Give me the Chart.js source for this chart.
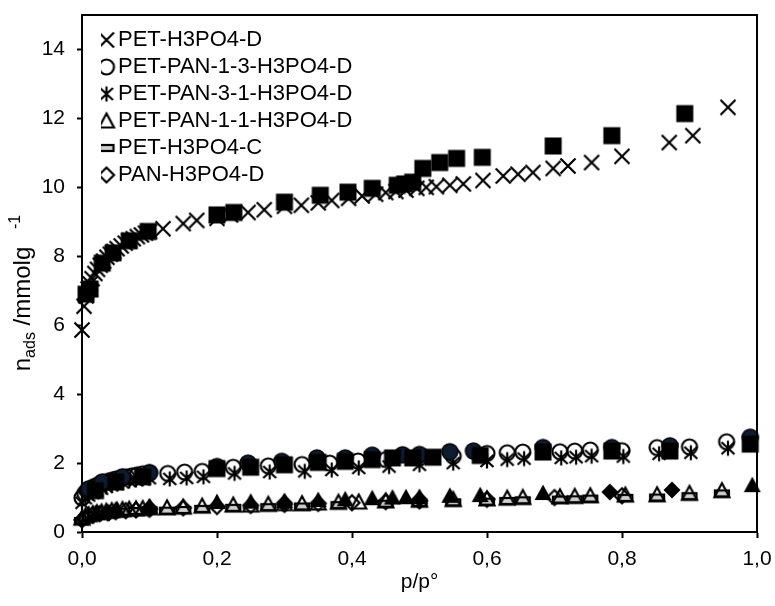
<!DOCTYPE html>
<html>
<head>
<meta charset="utf-8">
<title>Isotherms</title>
<script src="https://cdn.jsdelivr.net/npm/chart.js@4.4.1/dist/chart.umd.min.js"></script>
<style>
  html, body { margin: 0; padding: 0; background: #fff; }
  #wrap { width: 775px; height: 606px; }
</style>
</head>
<body>
<div id="wrap"><canvas id="isoChart" width="775" height="606"></canvas></div>
<script>
// series names (legend)
const seriesNames = ['PET-H3PO4-D', 'PET-PAN-1-3-H3PO4-D', 'PET-PAN-3-1-H3PO4-D',
                     'PET-PAN-1-1-H3PO4-D', 'PET-H3PO4-C', 'PAN-H3PO4-D'];
const xTicks = [0, 0.2, 0.4, 0.6, 0.8, 1.0];
const yTicks = [0, 2, 4, 6, 8, 10, 12, 14];

// PET-H3PO4-D adsorption (x) and desorption (filled square)
const petD_adsP = [0.000, 0.003, 0.006, 0.009, 0.012, 0.015, 0.019, 0.023, 0.027, 0.032, 0.037, 0.042, 0.047, 0.052, 0.058, 0.064, 0.070, 0.076, 0.082, 0.088, 0.094, 0.100,
                   0.120, 0.150, 0.170, 0.200, 0.220, 0.246, 0.270, 0.300, 0.325, 0.350, 0.370, 0.395, 0.415, 0.435, 0.450, 0.465, 0.480, 0.496, 0.510, 0.525, 0.545, 0.565,
                   0.594, 0.624, 0.646, 0.668, 0.698, 0.720, 0.755, 0.800, 0.870, 0.905, 0.957];
const petD_adsN = [5.86, 6.55, 6.85, 7.05, 7.20, 7.35, 7.50, 7.62, 7.74, 7.86, 7.97, 8.06, 8.14, 8.22, 8.30, 8.38, 8.45, 8.51, 8.57, 8.62, 8.67, 8.72,
                   8.80, 8.95, 9.04, 9.10, 9.20, 9.27, 9.35, 9.45, 9.48, 9.55, 9.62, 9.68, 9.75, 9.80, 9.85, 9.88, 9.92, 9.97, 10.00, 10.02, 10.06, 10.10,
                   10.20, 10.33, 10.38, 10.43, 10.55, 10.62, 10.72, 10.90, 11.30, 11.50, 12.32];
const petD_desP = [0.893, 0.785, 0.698, 0.593, 0.555, 0.530, 0.505, 0.490, 0.478, 0.467, 0.430, 0.394, 0.353, 0.300, 0.225, 0.200, 0.098, 0.070, 0.046, 0.030, 0.012, 0.006];
const petD_desN = [12.14, 11.50, 11.20, 10.87, 10.84, 10.72, 10.55, 10.15, 10.10, 10.06, 9.97, 9.86, 9.77, 9.57, 9.27, 9.20, 8.72, 8.45, 8.10, 7.80, 7.05, 6.90];

// PET-PAN-1-3-H3PO4-D adsorption (open circle) and desorption (filled circle)
const pp13_adsP = [0.000, 0.004, 0.008, 0.013, 0.018, 0.024, 0.030, 0.036, 0.043, 0.050, 0.058, 0.066, 0.074, 0.082, 0.090, 0.100,
                   0.127, 0.152, 0.178, 0.224, 0.276, 0.326, 0.367, 0.409, 0.450, 0.500, 0.550, 0.600, 0.630, 0.653, 0.708, 0.730, 0.753, 0.800, 0.852, 0.900, 0.955];
const pp13_adsN = [0.99, 1.12, 1.20, 1.26, 1.32, 1.37, 1.42, 1.46, 1.50, 1.54, 1.57, 1.60, 1.63, 1.66, 1.69, 1.72,
                   1.70, 1.74, 1.76, 1.88, 1.92, 1.96, 2.00, 2.06, 2.10, 2.15, 2.20, 2.28, 2.30, 2.32, 2.33, 2.35, 2.38, 2.36, 2.45, 2.47, 2.62];
const pp13_desP = [0.990, 0.871, 0.785, 0.683, 0.580, 0.545, 0.500, 0.475, 0.430, 0.390, 0.348, 0.296, 0.246, 0.200, 0.100, 0.060, 0.030, 0.010];
const pp13_desN = [2.75, 2.50, 2.45, 2.45, 2.35, 2.33, 2.25, 2.24, 2.23, 2.15, 2.15, 2.05, 2.00, 1.90, 1.72, 1.60, 1.45, 1.25];

// PET-PAN-3-1-H3PO4-D adsorption (asterisk) and desorption (filled square)
const pp31_adsP = [0.000, 0.005, 0.010, 0.016, 0.022, 0.029, 0.036, 0.044, 0.052, 0.060, 0.070, 0.080, 0.090, 0.100, 0.130, 0.155, 0.180, 0.226,
                   0.278, 0.330, 0.370, 0.410, 0.455, 0.500, 0.550, 0.600, 0.630, 0.655, 0.710, 0.732, 0.755, 0.802, 0.855, 0.902, 0.957];
const pp31_adsN = [0.85, 0.98, 1.06, 1.13, 1.20, 1.26, 1.31, 1.36, 1.40, 1.44, 1.48, 1.51, 1.54, 1.56, 1.54, 1.57, 1.60, 1.70,
                   1.74, 1.76, 1.80, 1.86, 1.90, 1.95, 2.00, 2.06, 2.10, 2.13, 2.15, 2.17, 2.20, 2.19, 2.27, 2.30, 2.43];
const pp31_desP = [0.990, 0.871, 0.785, 0.683, 0.590, 0.520, 0.490, 0.460, 0.430, 0.390, 0.350, 0.300, 0.250, 0.200, 0.090, 0.050, 0.020];
const pp31_desN = [2.55, 2.35, 2.35, 2.32, 2.22, 2.17, 2.15, 2.15, 2.10, 2.05, 2.02, 1.95, 1.88, 1.84, 1.60, 1.45, 1.20];

// PET-PAN-1-1-H3PO4-D adsorption (open triangle) and desorption (filled triangle)
const pp11_adsP = [0.000, 0.005, 0.010, 0.016, 0.022, 0.029, 0.036, 0.044, 0.052, 0.060, 0.070, 0.080, 0.090, 0.100, 0.126, 0.150, 0.178, 0.224,
                   0.250, 0.276, 0.300, 0.326, 0.350, 0.380, 0.410, 0.450, 0.500, 0.550, 0.600, 0.630, 0.653, 0.708, 0.730, 0.753, 0.805, 0.852, 0.900, 0.948];
const pp11_adsN = [0.40, 0.46, 0.50, 0.53, 0.56, 0.58, 0.60, 0.62, 0.63, 0.65, 0.66, 0.67, 0.68, 0.70, 0.70, 0.72, 0.75, 0.78,
                   0.78, 0.80, 0.82, 0.82, 0.84, 0.86, 0.87, 0.90, 0.92, 0.94, 0.96, 0.98, 1.00, 1.02, 1.03, 1.05, 1.07, 1.08, 1.12, 1.20];
const pp11_desP = [0.993, 0.683, 0.590, 0.545, 0.500, 0.480, 0.460, 0.430, 0.390, 0.350, 0.300, 0.250, 0.200, 0.100, 0.050, 0.020];
const pp11_desN = [1.36, 1.13, 1.07, 1.05, 1.02, 1.01, 1.00, 0.98, 0.95, 0.93, 0.90, 0.88, 0.87, 0.74, 0.65, 0.55];

// PET-H3PO4-C adsorption (bar)
const petC_adsP = [0.000, 0.006, 0.012, 0.020, 0.030, 0.040, 0.052, 0.065, 0.080, 0.100, 0.126, 0.150, 0.178, 0.224, 0.276, 0.326, 0.380,
                   0.450, 0.500, 0.550, 0.600, 0.630, 0.653, 0.708, 0.730, 0.753, 0.805, 0.852, 0.900, 0.948];
const petC_adsN = [0.32, 0.40, 0.45, 0.49, 0.52, 0.55, 0.57, 0.59, 0.61, 0.63, 0.62, 0.64, 0.67, 0.70, 0.72, 0.74, 0.78,
                   0.82, 0.84, 0.86, 0.88, 0.90, 0.92, 0.94, 0.95, 0.97, 0.99, 1.00, 1.04, 1.12];

// PAN-H3PO4-D adsorption (open diamond) and desorption (filled diamond)
const pan_adsP = [0.000, 0.008, 0.016, 0.026, 0.038, 0.050, 0.065, 0.080, 0.100, 0.150, 0.200, 0.250, 0.300, 0.350, 0.400, 0.450, 0.500, 0.600, 0.700, 0.800];
const pan_adsN = [0.35, 0.44, 0.49, 0.53, 0.56, 0.59, 0.62, 0.64, 0.66, 0.70, 0.74, 0.77, 0.80, 0.83, 0.85, 0.88, 0.90, 0.95, 1.00, 1.05];
const pan_desP = [0.874, 0.782, 0.500, 0.300, 0.100, 0.040];
const pan_desN = [1.22, 1.16, 0.95, 0.85, 0.70, 0.55];

// marker images, Excel style
function makeMarker(size, draw) {
  const c = document.createElement('canvas');
  c.width = size; c.height = size;
  const g = c.getContext('2d');
  g.translate(size / 2, size / 2);
  g.strokeStyle = '#000';
  g.fillStyle = '#000';
  g.lineWidth = 2.2;
  draw(g);
  return c;
}
function poly(g, pts) {
  g.beginPath();
  g.moveTo(pts[0][0], pts[0][1]);
  for (let i = 1; i < pts.length; i++) g.lineTo(pts[i][0], pts[i][1]);
  g.closePath();
}
const mkCross = makeMarker(22, g => {
  g.beginPath();
  g.moveTo(-7.5, -7.5); g.lineTo(7.5, 7.5);
  g.moveTo(7.5, -7.5); g.lineTo(-7.5, 7.5);
  g.stroke();
});
const mkCircle = makeMarker(22, g => {
  g.beginPath(); g.arc(0, 0, 7.5, 0, Math.PI * 2); g.stroke();
});
const mkStar = makeMarker(22, g => {
  g.beginPath();
  g.moveTo(0, -7.5); g.lineTo(0, 7.5);
  g.moveTo(-6.5, -6); g.lineTo(6.5, 6);
  g.moveTo(6.5, -6); g.lineTo(-6.5, 6);
  g.stroke();
});
const mkTriangle = makeMarker(22, g => {
  poly(g, [[0, -7.5], [7.5, 6.5], [-7.5, 6.5]]); g.stroke();
});
const mkBar = makeMarker(22, g => {
  g.fillStyle = '#d0d0d0';
  g.fillRect(-7, -3, 14, 6);
  g.strokeRect(-7, -3, 14, 6);
});
const mkDiamond = makeMarker(22, g => {
  poly(g, [[0, -7.5], [7.5, 0], [0, 7.5], [-7.5, 0]]); g.stroke();
});
const mkSquareF = makeMarker(22, g => { g.fillRect(-8.5, -8.5, 17, 17); });
const mkCircleF = makeMarker(22, g => {
  g.fillStyle = '#0e1c33';
  g.beginPath(); g.arc(0, 0, 8, 0, Math.PI * 2); g.fill();
  g.lineWidth = 1.5; g.stroke();
});
const mkTriangleF = makeMarker(22, g => { poly(g, [[0, -8.5], [8.5, 7], [-8.5, 7]]); g.fill(); });
const mkDiamondF = makeMarker(22, g => { poly(g, [[0, -8.5], [8.5, 0], [0, 8.5], [-8.5, 0]]); g.fill(); });

function pts(xs, ys) {
  return xs.map((x, i) => ({ x: x, y: ys[i] }));
}
function series(label, xs, ys, marker, order) {
  return {
    label: label,
    data: pts(xs, ys),
    pointStyle: marker,
    pointRadius: 5,
    showLine: false,
    clip: false,
    order: order
  };
}

const datasets = [
  series(seriesNames[0], petD_adsP, petD_adsN, mkCross, 2),
  series(seriesNames[1], pp13_adsP, pp13_adsN, mkCircle, 2),
  series(seriesNames[2], pp31_adsP, pp31_adsN, mkStar, 2),
  series(seriesNames[3], pp11_adsP, pp11_adsN, mkTriangle, 2),
  series(seriesNames[4], petC_adsP, petC_adsN, mkBar, 2),
  series(seriesNames[5], pan_adsP, pan_adsN, mkDiamond, 2),
  series(seriesNames[0] + ' des', petD_desP, petD_desN, mkSquareF, 1),
  series(seriesNames[2] + ' des', pp31_desP, pp31_desN, mkSquareF, 1),
  series(seriesNames[1] + ' des', pp13_desP, pp13_desN, mkCircleF, 1),
  series(seriesNames[3] + ' des', pp11_desP, pp11_desN, mkTriangleF, 1),
  series(seriesNames[5] + ' des', pan_desP, pan_desN, mkDiamondF, 1)
];

const FONT = "'Liberation Sans', Arial, sans-serif";

// box round the plot, axis titles
const framePlugin = {
  id: 'frame',
  afterLayout(chart) {
    // move legend to the top-left corner like the original
    const lg = chart.legend;
    const pad = lg.options.labels.padding;
    const w = lg.width, h = lg.height;
    lg.left = 106 - pad; lg.top = 29 - pad;
    lg.right = lg.left + w; lg.bottom = lg.top + h;
  },
  afterDraw(chart) {
    const ctx = chart.ctx;
    const a = chart.chartArea;
    ctx.save();
    ctx.strokeStyle = '#000';
    ctx.lineWidth = 2;
    ctx.beginPath();
    ctx.moveTo(a.left, a.top); ctx.lineTo(a.right, a.top); ctx.lineTo(a.right, a.bottom);
    ctx.stroke();

    ctx.fillStyle = '#000';
    ctx.textBaseline = 'alphabetic';
    ctx.textAlign = 'center';
    ctx.font = '21px ' + FONT;
    ctx.fillText('p/p°', (a.left + a.right) / 2, 588);

    // y title with sub and superscript
    const parts = [
      { t: 'n', s: 24, dy: 0 },
      { t: 'ads', s: 16, dy: 5 },
      { t: ' /mmolg', s: 24, dy: 0 },
      { t: '    -1', s: 16, dy: -10 }
    ];
    let total = 0;
    parts.forEach(p => { ctx.font = p.s + 'px ' + FONT; p.w = ctx.measureText(p.t).width; total += p.w; });
    ctx.translate(30, 293);
    ctx.rotate(-Math.PI / 2);
    ctx.textAlign = 'left';
    let x = -total / 2;
    parts.forEach(p => {
      ctx.font = p.s + 'px ' + FONT;
      ctx.fillText(p.t, x, p.dy);
      x += p.w;
    });
    ctx.restore();
  }
};

const ctx = document.getElementById('isoChart').getContext('2d');
const isoChart = new Chart(ctx, {
  type: 'scatter',
  data: { datasets: datasets },
  options: {
    responsive: false,
    animation: false,
    devicePixelRatio: 1,
    events: [],
    layout: { padding: { left: 0, right: 18, top: 15, bottom: 0 } },
    plugins: {
      tooltip: { enabled: false },
      legend: {
        position: 'chartArea',
        align: 'start',
        labels: {
          usePointStyle: true,
          pointStyleWidth: 1,
          padding: 5,
          color: '#000',
          font: { family: FONT, size: 22 },
          filter: item => item.datasetIndex < 6
        }
      }
    },
    scales: {
      x: {
        type: 'linear',
        min: xTicks[0],
        max: xTicks[xTicks.length - 1],
        afterFit: s => { s.height = 74; s.paddingLeft = 0; s.paddingRight = 0; },
        afterBuildTicks: s => { s.ticks = xTicks.map(v => ({ value: v })); },
        ticks: {
          color: '#000',
          font: { family: FONT, size: 21 },
          padding: 9,
          maxRotation: 0,
          callback: v => v.toFixed(1).replace('.', ',')
        },
        grid: { drawOnChartArea: false, drawTicks: true, tickLength: 6, tickColor: '#000', tickWidth: 2 },
        border: { display: true, color: '#000', width: 2 }
      },
      y: {
        type: 'linear',
        min: 0,
        max: 15,
        afterFit: s => { s.width = 82; s.paddingTop = 0; s.paddingBottom = 0; },
        afterBuildTicks: s => { s.ticks = yTicks.map(v => ({ value: v })); },
        ticks: {
          color: '#000',
          font: { family: FONT, size: 21 },
          padding: 12,
          callback: v => String(v)
        },
        grid: { drawOnChartArea: false, drawTicks: true, tickLength: 5, tickColor: '#000', tickWidth: 2 },
        border: { display: true, color: '#000', width: 2 }
      }
    }
  },
  plugins: [framePlugin]
});
</script>
</body>
</html>
